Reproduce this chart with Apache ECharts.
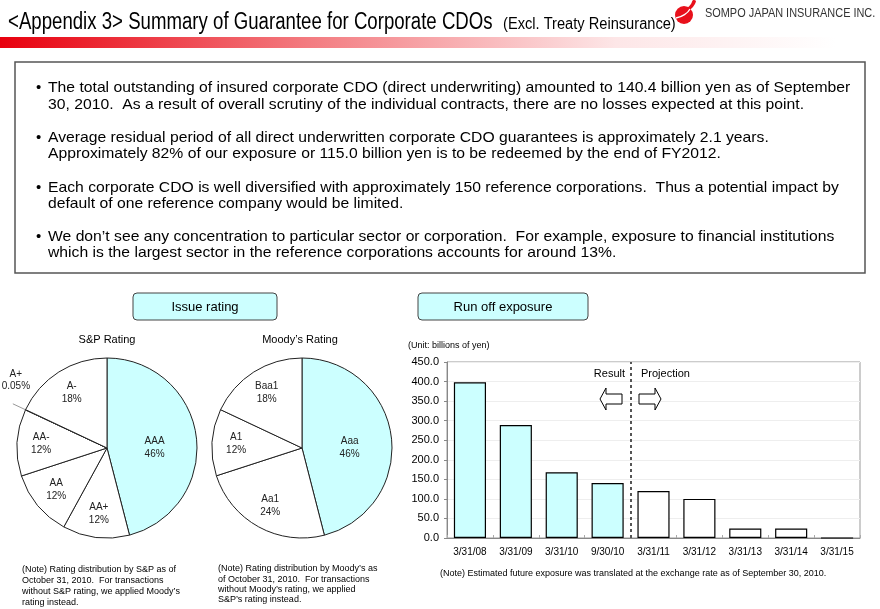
<!DOCTYPE html>
<html>
<head>
<meta charset="utf-8">
<script src="https://cdn.jsdelivr.net/npm/echarts@6/dist/echarts.min.js"></script>
<style>
html,body{margin:0;padding:0;background:#fff;}
#chart{width:880px;height:609px;}
</style>
</head>
<body>
<div id="chart"></div>
<script>
// ---------- texts ----------
const pageTitle = '<Appendix 3> Summary of Guarantee for Corporate CDOs';
const pageSubtitle = '(Excl. Treaty Reinsurance)';
const companyName = 'SOMPO JAPAN INSURANCE INC.';
const bulletParagraphs = [
  ['The total outstanding of insured corporate CDO (direct underwriting) amounted to 140.4 billion yen as of September',
   '30, 2010.  As a result of overall scrutiny of the individual contracts, there are no losses expected at this point.'],
  ['Average residual period of all direct underwritten corporate CDO guarantees is approximately 2.1 years.',
   'Approximately 82% of our exposure or 115.0 billion yen is to be redeemed by the end of FY2012.'],
  ['Each corporate CDO is well diversified with approximately 150 reference corporations.  Thus a potential impact by',
   'default of one reference company would be limited.'],
  ['We don\u2019t see any concentration to particular sector or corporation.  For example, exposure to financial institutions',
   'which is the largest sector in the reference corporations accounts for around 13%.']
];
const issueBoxLabel = 'Issue rating';
const runoffBoxLabel = 'Run off exposure';
const spTitle = 'S&P Rating';
const moodyTitle = 'Moody\u2019s Rating';
const unitLabel = '(Unit: billions of yen)';
const resultLabel = 'Result';
const projectionLabel = 'Projection';
const spNote = ['(Note) Rating distribution by S&P as of', 'October 31, 2010.  For transactions',
  'without S&P rating, we applied Moody\u2019s', 'rating instead.'];
const moodyNote = ['(Note) Rating distribution by Moody\u2019s as', 'of October 31, 2010.  For transactions',
  'without Moody\u2019s rating, we applied', 'S&P\u2019s rating instead.'];
const runoffNote = '(Note) Estimated future exposure was translated at the exchange rate as of September 30, 2010.';

// ---------- data ----------
const spNames = ['AAA', 'AA+', 'AA', 'AA-', 'A+', 'A-'];
const spValues = [46, 12, 12, 12, 0.05, 18];
const moodyNames = ['Aaa', 'Aa1', 'A1', 'Baa1'];
const moodyValues = [46, 24, 12, 18];
const runoffCategories = ['3/31/08', '3/31/09', '3/31/10', '9/30/10', '3/31/11', '3/31/12', '3/31/13', '3/31/14', '3/31/15'];
const runoffValues = [398, 289, 168, 140.4, 120, 100, 24, 24, 0];
const resultCount = 4; // first 4 are results, rest projections

// ---------- styles ----------
const FONT = "'Liberation Sans', Arial, Helvetica, sans-serif";
const CYAN = '#ccffff';

const chart = echarts.init(document.getElementById('chart'), null, {renderer: 'canvas'});

function txt(x, y, text, size, opts) {
  opts = opts || {};
  const el = {
    type: 'text', x: x, y: y, silent: true, z: opts.z || 10,
    style: {
      text: text, fontSize: size, fontFamily: opts.family || FONT,
      fill: opts.fill || '#000', fontWeight: opts.weight || 'normal',
      align: opts.align || 'left', verticalAlign: opts.va || 'middle',
      textAlign: opts.align || 'left', textVerticalAlign: opts.va || 'middle'
    }
  };
  if (opts.scaleX) { el.scaleX = opts.scaleX; }
  return el;
}

const graphics = [];
// header
graphics.push({type: 'rect', shape: {x: 0, y: 37, width: 880, height: 11}, silent: true,
  style: {fill: new echarts.graphic.LinearGradient(0, 0, 1, 0, [
    {offset: 0, color: '#e8000e'}, {offset: 0.35, color: '#f37b80'}, {offset: 0.7, color: '#fde6e7'}, {offset: 0.95, color: '#ffffff'}])}});
graphics.push(txt(8, 23, pageTitle, 23, {scaleX: 0.81}));
graphics.push(txt(503, 25, pageSubtitle, 16, {scaleX: 0.915}));
// logo
graphics.push({type: 'circle', shape: {cx: 684, cy: 15, r: 9}, silent: true, style: {fill: '#e8101b'}});
graphics.push({type: 'polygon', silent: true, shape: {points: [[681, 11], [687, 8], [691, 4], [693, 0], [696, 1], [693, 7], [688, 11], [682, 14]], smooth: 0.3}, style: {fill: '#e8101b'}});
graphics.push({type: 'bezierCurve', silent: true, shape: {x1: 676, y1: 18, x2: 690, y2: 9, cpx1: 682, cpy1: 17, cpx2: 688, cpy2: 13}, style: {stroke: '#fff', lineWidth: 1.3, fill: null}});
graphics.push(txt(705, 14, companyName, 12, {scaleX: 0.91, fill: '#333'}));

// text box
graphics.push({type: 'rect', shape: {x: 15, y: 62, width: 850, height: 211}, silent: true,
  style: {fill: '#fff', stroke: '#555', lineWidth: 1.5}, z: 1});
const lineYs = [[88, 105], [138, 154], [188, 204], [237, 253]];
bulletParagraphs.forEach(function (p, i) {
  graphics.push(txt(36, lineYs[i][0], '\u2022', 15));
  p.forEach(function (line, j) {
    graphics.push(txt(48, lineYs[i][j], line, 15, {scaleX: 1.047}));
  });
});

// section boxes
function sectionBox(x, w, label) {
  graphics.push({type: 'rect', shape: {x: x, y: 293, width: w, height: 27, r: 4}, silent: true,
    style: {fill: CYAN, stroke: '#444', lineWidth: 1}, z: 2});
  graphics.push(txt(x + w / 2, 307, label, 13, {align: 'center'}));
}
sectionBox(133, 144, issueBoxLabel);
sectionBox(418, 170, runoffBoxLabel);

// pie titles
graphics.push(txt(107, 340, spTitle, 11, {align: 'center'}));
graphics.push(txt(300, 340, moodyTitle, 11, {align: 'center'}));

// bar chart texts
graphics.push(txt(408, 346, unitLabel, 9));
graphics.push(txt(625, 374, resultLabel, 11, {align: 'right'}));
graphics.push(txt(641, 374, projectionLabel, 11));
// arrows
graphics.push({type: 'polygon', silent: true, z: 20,
  shape: {points: [[600, 399], [606, 388], [606, 394], [622, 394], [622, 404], [606, 404], [606, 410]]},
  style: {fill: '#fff', stroke: '#000', lineWidth: 1}});
graphics.push({type: 'polygon', silent: true, z: 20,
  shape: {points: [[661, 399], [655, 388], [655, 394], [639, 394], [639, 404], [655, 404], [655, 410]]},
  style: {fill: '#fff', stroke: '#000', lineWidth: 1}});

// notes
spNote.forEach(function (l, i) { graphics.push(txt(22, 570 + i * 10.7, l, 9)); });
moodyNote.forEach(function (l, i) { graphics.push(txt(218, 569 + i * 10.2, l, 9)); });
graphics.push(txt(440, 574, runoffNote, 9));

const BIG = 40;   // slices at least this large keep their label near the middle radius
const TINY = 1;   // slices below this get an outside label

function mainPieData(names, values) {
  return names.map(function (n, i) {
    const v = values[i];
    const item = {name: n, value: v, itemStyle: {color: i === 0 ? CYAN : '#fff'},
      label: {show: v >= BIG}};
    if (v < TINY) {
      item.label = {show: true, position: 'outside', width: 40, overflow: 'none', lineHeight: 12, align: 'center'};
      item.labelLine = {show: true, length: 14, length2: 0, lineStyle: {color: '#999', width: 1}};
    }
    return item;
  });
}
function labelPieData(names, values) {
  return names.map(function (n, i) {
    const v = values[i];
    return {name: n, value: v, label: {show: v < BIG && v >= TINY}};
  });
}

const labelStyle = {position: 'inside', formatter: '{b}\n{c}%', color: '#222', fontSize: 10, lineHeight: 13, fontFamily: FONT};

function piePair(center, names, values) {
  return [
    {
      type: 'pie', radius: 90, center: center, startAngle: 90, clockwise: true, silent: true,
      avoidLabelOverlap: false,
      label: labelStyle, labelLine: {show: false},
      itemStyle: {borderColor: '#222', borderWidth: 1},
      data: mainPieData(names, values),
      labelLayout: function (p) {
        return values[p.dataIndex] < TINY
          ? {align: 'center', verticalAlign: 'bottom', dx: 8, dy: -12}
          : {dy: 6};
      }
    },
    {
      type: 'pie', radius: [36, 90], center: center, startAngle: 90, clockwise: true, silent: true, z: 3,
      label: labelStyle, labelLine: {show: false},
      itemStyle: {color: 'rgba(0,0,0,0)', borderWidth: 0},
      emphasis: {disabled: true},
      data: labelPieData(names, values)
    }
  ];
}

const option = {
  animation: false,
  backgroundColor: '#fff',
  textStyle: {fontFamily: FONT},
  graphic: {elements: graphics},
  grid: {left: 447, top: 362, width: 413, height: 176, show: true, borderColor: '#999', borderWidth: 1, containLabel: false},
  xAxis: [{
    type: 'category', data: runoffCategories, boundaryGap: true,
    axisLine: {show: true, lineStyle: {color: '#888'}},
    axisTick: {show: true, inside: true, length: 3, lineStyle: {color: '#aaa'}},
    axisLabel: {color: '#000', fontSize: 10, margin: 9, interval: 0},
    splitLine: {show: false}
  }, {
    // band-boundary axis used to place the result/projection divider
    type: 'value', min: 0, max: runoffCategories.length, show: false
  }],
  yAxis: {
    type: 'value', min: 0, max: 450, interval: 50,
    axisLine: {show: true, lineStyle: {color: '#888'}},
    axisTick: {show: true, length: 3, lineStyle: {color: '#888'}},
    axisLabel: {color: '#000', fontSize: 11, margin: 8, formatter: function (v) { return v.toFixed(1); }},
    splitLine: {show: true, lineStyle: {color: '#eeeeee', width: 1}}
  },
  series: [].concat(
    piePair([107, 448], spNames, spValues),
    piePair([302, 448], moodyNames, moodyValues),
    [{
      type: 'bar', barWidth: '70%', silent: true, z: 5,
      data: runoffValues.map(function (v, i) {
        return {value: v, itemStyle: {color: i < resultCount ? CYAN : '#fff'}};
      }),
      itemStyle: {borderColor: '#000', borderWidth: 1.2},
      label: {show: false}
    }, {
      type: 'line', xAxisIndex: 1, data: [], silent: true, z: 6,
      markLine: {
        silent: true, symbol: 'none', animation: false,
        label: {show: false},
        lineStyle: {color: '#555', width: 2, type: [3, 3]},
        data: [{xAxis: resultCount}]
      }
    }]
  )
};
chart.setOption(option);
</script>
</body>
</html>
